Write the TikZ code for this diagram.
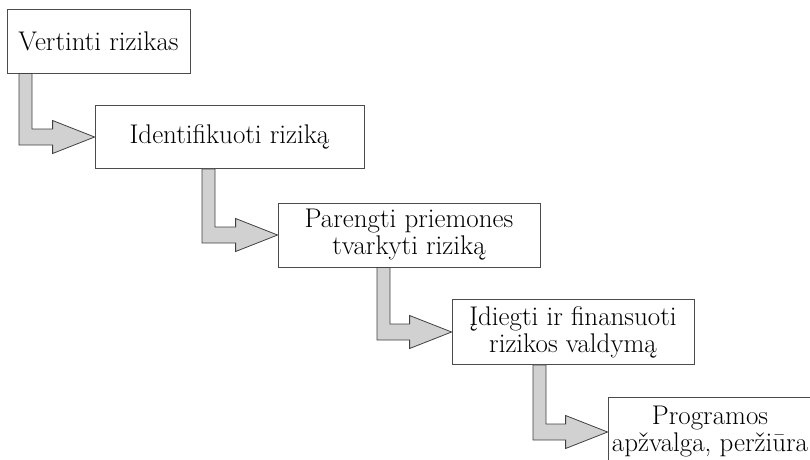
\documentclass[tikz,border=0pt]{standalone}
\usepackage{tikz}
\usetikzlibrary{calc}

\begin{document}
\begin{tikzpicture}[x=1pt,y=-1pt]
\tikzstyle{riskbox}=[draw=black!70, fill=white, line width=0.8pt, inner sep=0pt, align=center, font=\fontsize{27}{27}\selectfont]
\tikzstyle{flow}=[draw=black!75, fill=black!18, line width=0.8pt, line join=miter]

\useasboundingbox (0,0) rectangle (810,459);
\clip (0,0) rectangle (810,459);

\node[riskbox, minimum width=183, minimum height=64] (v1) at (98.5,41) {Vertinti rizikas};
\node[riskbox, minimum width=269, minimum height=63] (v2) at (229.5,137) {Identifikuoti riziką};
\node[riskbox, minimum width=262, minimum height=64] (v3) at (409,235) {Parengti priemones\\tvarkyti riziką};
\node[riskbox, minimum width=242, minimum height=65] (v4) at (573,332) {Įdiegti ir finansuoti\\rizikos valdymą};
\node[riskbox, minimum width=204, minimum height=70] (v5) at (710,432) {Programos\\apžvalga, peržiūra};

\foreach \from/\to/\sx in {v1/v2/19,v2/v3/202,v3/v4/377,v4/v5/533}
\draw [flow] let \p1=(\from.south), \p2=(\to.west) in
  (\sx pt,\y1) -- (\sx pt+13pt,\y1) -- (\sx pt+13pt,\y2+8pt) -- (\x2-42pt,\y2+8pt)
  -- (\x2-42pt,\y2+16.5pt) -- (\x2,\y2) -- (\x2-42pt,\y2-16.5pt)
  -- (\x2-42pt,\y2-8pt) -- (\sx pt,\y2-8pt) -- cycle;

\end{tikzpicture}
\end{document}
